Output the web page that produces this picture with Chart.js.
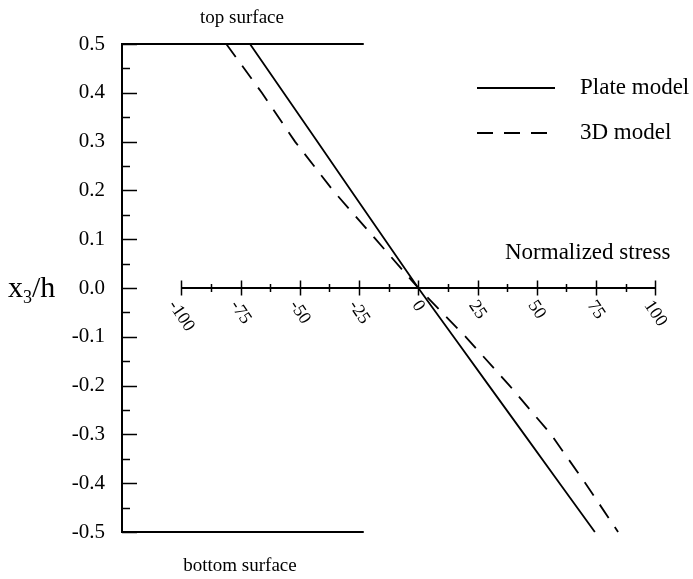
<!DOCTYPE html>
<html>
<head>
<meta charset="utf-8">
<script src="https://cdn.jsdelivr.net/npm/chart.js@4.4.0/dist/chart.umd.min.js"></script>
<style>
  body { margin: 0; background: #fff; }
  #wrap { width: 693px; height: 579px; }
</style>
</head>
<body>
<div id="wrap"><canvas id="chart" width="693" height="579"></canvas></div>
<script>
// === Data ===
const thicknessLevels = [0.5, 0.4, 0.3, 0.2, 0.1, 0.0, -0.1, -0.2, -0.3, -0.4, -0.5];
const plateStress = [-71, -56.8, -42.6, -28.4, -14.2, 0, 14.9, 29.8, 44.7, 59.6, 74.5];
const solid3DStress = [-81, -66, -52, -36, -18, 0, 20, 38.5, 56, 70.5, 84.3];
const surfaceStress = [-125, -23];
const topSurface = [0.5, 0.5];
const bottomSurface = [-0.5, -0.5];
const xTickValues = [-100, -75, -50, -25, 0, 25, 50, 75, 100];
const seriesNames = ['Plate model', '3D model'];

const SERIF = '"Liberation Serif", "Times New Roman", serif';
const pts = (xs, ys) => xs.map((x, i) => ({ x, y: ys[i] }));

// === Custom axis / text plugin ===
const decorations = {
  id: 'decorations',
  afterDatasetsDraw(chart) {
    const { ctx, chartArea, scales: { x, y } } = chart;
    const y0 = y.getPixelForValue(0);
    ctx.save();
    ctx.strokeStyle = '#000';
    ctx.fillStyle = '#000';

    // stress axis through zero
    ctx.lineWidth = 2;
    ctx.beginPath();
    ctx.moveTo(x.getPixelForValue(-100), y0);
    ctx.lineTo(x.getPixelForValue(100), y0);
    ctx.stroke();
    ctx.lineWidth = 1.5;
    for (let v = -100; v <= 100; v += 12.5) {
      const px = Math.round(x.getPixelForValue(v)) + 0.5;
      const len = v % 25 === 0 ? 7.5 : 4;
      ctx.beginPath();
      ctx.moveTo(px, y0 - len);
      ctx.lineTo(px, y0 + len);
      ctx.stroke();
    }

    // rotated stress tick labels
    ctx.font = '18px ' + SERIF;
    ctx.textAlign = 'center';
    ctx.textBaseline = 'middle';
    const ang = 56 * Math.PI / 180;
    xTickValues.forEach(v => {
      const label = String(v);
      const w = ctx.measureText(label).width;
      const half = (w / 2) * Math.sin(ang) + 6 * Math.cos(ang);
      ctx.save();
      ctx.translate(x.getPixelForValue(v), y0 + 11 + half);
      ctx.rotate(ang);
      ctx.fillText(label, 0, 0);
      ctx.restore();
    });

    // thickness ticks (inside)
    ctx.lineWidth = 1.5;
    for (let i = -10; i <= 10; i++) {
      const py = Math.round(y.getPixelForValue(i * 0.05)) + 0.5;
      const len = i % 2 === 0 ? 15 : 8;
      ctx.beginPath();
      ctx.moveTo(chartArea.left, py);
      ctx.lineTo(chartArea.left + len, py);
      ctx.stroke();
    }

    // labels
    ctx.textAlign = 'center';
    ctx.font = '19px ' + SERIF;
    ctx.fillText('top surface', 242, 18);
    ctx.fillText('bottom surface', 240, 566);
    ctx.textAlign = 'left';
    ctx.font = '23px ' + SERIF;
    ctx.fillText('Normalized stress', 505, 253);

    // x3/h
    ctx.textBaseline = 'alphabetic';
    ctx.font = '30px ' + SERIF;
    ctx.fillText('x', 8, 297);
    const xw = ctx.measureText('x').width;
    ctx.font = '18px ' + SERIF;
    ctx.fillText('3', 8 + xw, 303);
    const sw = ctx.measureText('3').width;
    ctx.font = '30px ' + SERIF;
    ctx.fillText('/h', 8 + xw + sw, 297);

    // legend
    ctx.textBaseline = 'middle';
    ctx.font = '23px ' + SERIF;
    const rows = [88, 133];
    chart.data.datasets.slice(0, 2).forEach((ds, i) => {
      ctx.lineWidth = 1.8;
      ctx.setLineDash(ds.borderDash || []);
      ctx.beginPath();
      ctx.moveTo(477, rows[i]);
      ctx.lineTo(555, rows[i]);
      ctx.stroke();
      ctx.setLineDash([]);
      ctx.fillText(ds.label, 580, rows[i]);
    });
    ctx.restore();
  }
};

// === Chart ===
new Chart(document.getElementById('chart'), {
  type: 'scatter',
  data: {
    datasets: [
      { label: seriesNames[0], data: pts(plateStress, thicknessLevels), borderColor: '#000', borderWidth: 1.8, showLine: true, pointRadius: 0, clip: false },
      { label: seriesNames[1], data: pts(solid3DStress, thicknessLevels), borderColor: '#000', borderWidth: 1.8, borderDash: [16, 11], showLine: true, pointRadius: 0, clip: false },
      { label: 'top', data: pts(surfaceStress, topSurface), borderColor: '#000', borderWidth: 2, showLine: true, pointRadius: 0, clip: false },
      { label: 'bottom', data: pts(surfaceStress, bottomSurface), borderColor: '#000', borderWidth: 2, showLine: true, pointRadius: 0, clip: false },
    ]
  },
  options: {
    responsive: false,
    animation: false,
    layout: { padding: { left: 0, right: 14, top: 44, bottom: 47 } },
    plugins: { legend: { display: false }, tooltip: { enabled: false } },
    scales: {
      x: { type: 'linear', min: -125, max: 110, display: false },
      y: {
        min: -0.5, max: 0.5,
        grid: { display: false },
        border: { display: true, color: '#000', width: 2 },
        ticks: {
          stepSize: 0.1, padding: 9, color: '#000',
          font: { family: SERIF, size: 21 },
          callback: v => (Math.abs(v) < 1e-9 ? 0 : v).toFixed(1)
        },
        afterFit(scale) { scale.width = 122; }
      }
    }
  },
  plugins: [decorations]
});
</script>
</body>
</html>
